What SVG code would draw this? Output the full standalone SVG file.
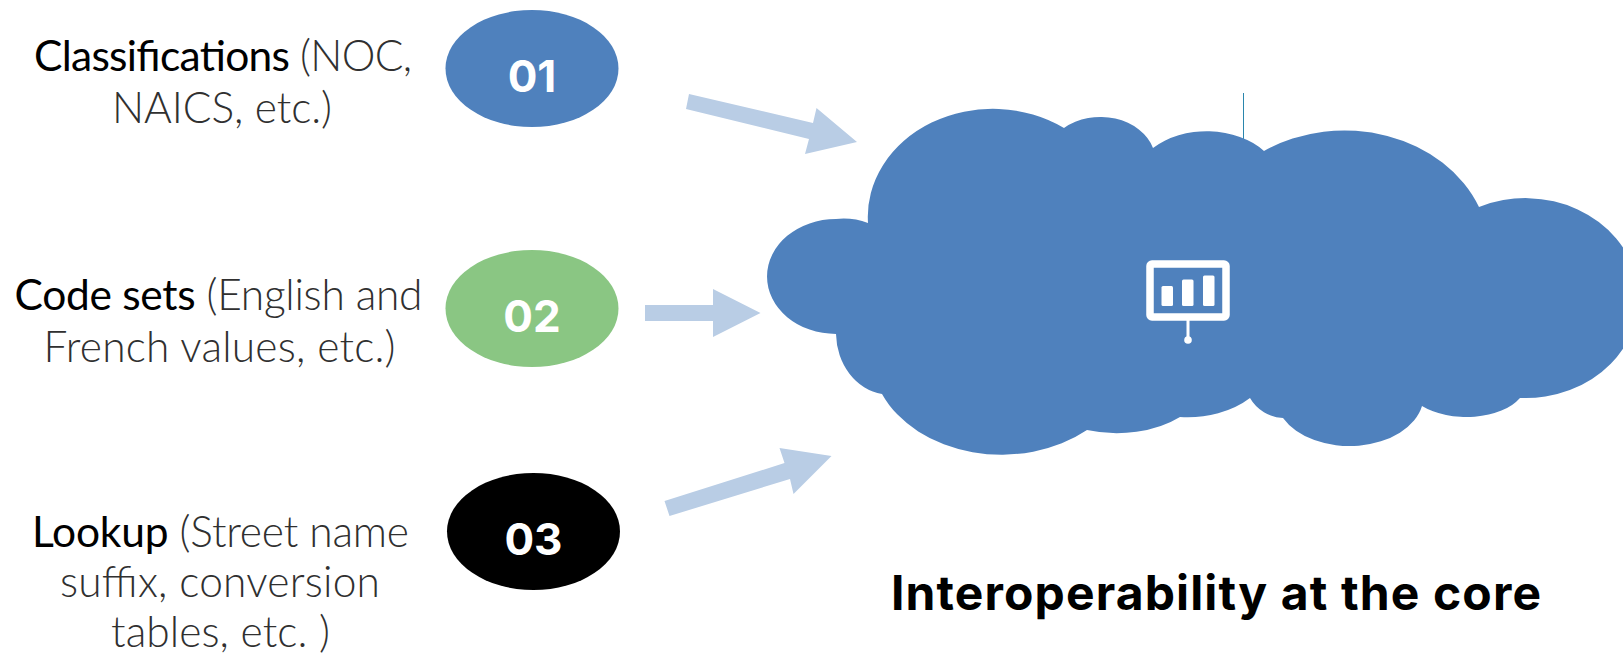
<svg xmlns="http://www.w3.org/2000/svg" width="1623" height="654" viewBox="0 0 1623 654">
<style>
.cap{font-family:"Lato","Open Sans",sans-serif;font-size:42.5px;font-weight:300;fill:#303030;text-anchor:middle}
.cap .k{fill:#000;font-weight:400}
.num{font-family:"Inter","Open Sans",sans-serif;font-size:44px;font-weight:700;fill:#fff;text-anchor:middle}
.title{font-family:"Inter","Open Sans",sans-serif;font-size:48px;font-weight:700;fill:#000}
.arr{fill:#b9cde5}
.blue{fill:#4f81bd}
</style>
<g id="connectors">
<polygon class="arr" points="689,94 813,123 816.5,108 857,142 805,154 809,139 686,109"/>
<polygon class="arr" points="645,305 713,305 713,289 760.5,313 713,337 713,321 645,321"/>
<polygon class="arr" points="664.5,501 784.5,463 779.5,448 831.5,456 793.5,494 790,479 669.5,516"/>
</g>
<g id="node-01"><ellipse class="blue" cx="532" cy="68.5" rx="86.5" ry="58.5"/><text class="num" x="532" y="92">01</text>
<text class="cap" x="223" y="71" textLength="378"><tspan class="k">Classifications</tspan> (NOC,</text><text class="cap" x="222" y="122.5" textLength="220">NAICS, etc.)</text></g>
<g id="node-02"><ellipse cx="532" cy="308.5" rx="86.5" ry="58.5" fill="#8ac683"/><text class="num" x="532" y="332">02</text>
<text class="cap" x="218.5" y="310" textLength="408"><tspan class="k">Code sets</tspan> (English and</text><text class="cap" x="219.5" y="361.5" textLength="352">French values, etc.)</text></g>
<g id="node-03"><ellipse cx="533.5" cy="531.5" rx="86.5" ry="58.5" fill="#000"/><text class="num" x="533.5" y="555">03</text>
<text class="cap" x="220.5" y="547" textLength="377"><tspan class="k">Lookup</tspan> (Street name</text><text class="cap" x="220" y="597" textLength="320">suffix, conversion</text><text class="cap" x="220.5" y="647" textLength="219">tables, etc. )</text></g>
<g id="cloud">
<line x1="1243.5" y1="93" x2="1243.5" y2="140" stroke="#2a86ad" stroke-width="1"/>
<path class="blue" d="M868 223A125 108 0 0 1 1064 128A55 44 0 0 1 1153 148A72 50 0 0 1 1264 151A145 122 0 0 1 1479 207A113 100 0 1 1 1520 398A60 34 0 0 1 1422 406A74 50 0 0 1 1283 418A40 40 0 0 1 1250 398A85 60 0 0 1 1180 417A90 56 0 0 1 1087 430A130 100 0 0 1 882 394A54 62 0 0 1 836 334A69 57.5 0 0 1 836 219A60 50 0 0 1 868 223Z"/>
<g id="icon">
<rect x="1150" y="264" width="76" height="53" rx="2" fill="none" stroke="#fff" stroke-width="7.5"/>
<rect x="1161.5" y="286" width="11.5" height="20" rx="1.5" fill="#fff"/>
<rect x="1182" y="279.5" width="11.5" height="26.5" rx="1.5" fill="#fff"/>
<rect x="1203" y="275.5" width="11.5" height="30.5" rx="1.5" fill="#fff"/>
<rect x="1186.5" y="320" width="3" height="18" fill="#fff"/>
<circle cx="1188" cy="340" r="3.8" fill="#fff"/>
</g>
</g>
<text id="title" class="title" x="891" y="610" textLength="650" lengthAdjust="spacing">Interoperability at the core</text>
</svg>
